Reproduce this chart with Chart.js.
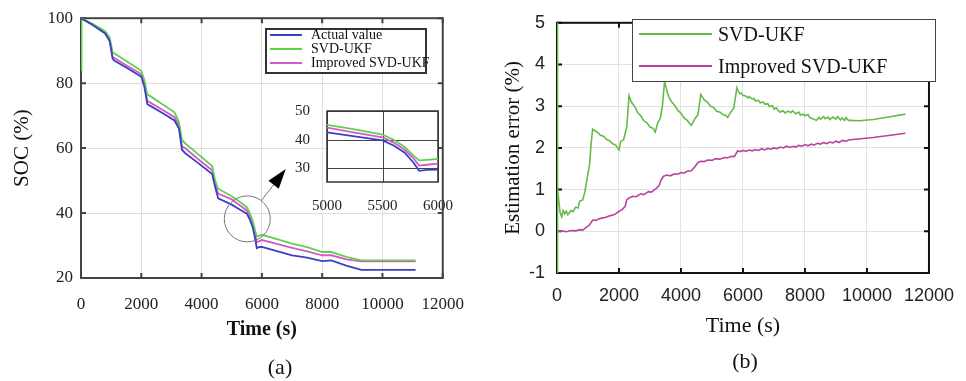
<!DOCTYPE html>
<html>
<head>
<meta charset="utf-8">
<script src="https://cdn.jsdelivr.net/npm/chart.js@4.4.0/dist/chart.umd.min.js"></script>
<style>
  body { margin: 0; background: #fff; }
  #wrap { position: relative; width: 966px; height: 381px; overflow: hidden; }
  canvas { position: absolute; }
  #socChart { left: 0; top: 0; }
  #zoomChart { left: 280px; top: 93px; }
  #errChart { left: 480px; top: 0; }
  .legend { position: absolute; background: #fff; font-family: "Liberation Serif", serif; color: #111; box-sizing: border-box; }
  .legend-item { display: flex; align-items: center; white-space: nowrap; position: relative; top: -2px; }
  .legend-line { flex: none; }
  #legendA { left: 265px; top: 28px; width: 162px; height: 46px; border: 2px solid #333; font-size: 14px; }
  #legendA .legend-item { height: 14px; }
  #legendA .legend-line { width: 32px; height: 2px; margin: 0 9px 0 3px; }
  #legendB { left: 632px; top: 19px; width: 304px; height: 63px; border: 1px solid #444; font-size: 20px; }
  #legendB .legend-item { height: 32px; }
  #legendB .legend-line { width: 73px; height: 2px; margin: 0 6px 0 6px; }
  .cap { position: absolute; font-family: "Liberation Serif", serif; font-size: 22px; color: #111; transform: translate(-50%, -50%); }
</style>
</head>
<body>
<div id="wrap">
  <canvas id="socChart" width="480" height="381"></canvas>
  <canvas id="zoomChart" width="180" height="117"></canvas>
  <canvas id="errChart" width="486" height="381"></canvas>
  <div class="legend" id="legendA"></div>
  <div class="legend" id="legendB"></div>
  <div class="cap" style="left:280px; top:367px;">(a)</div>
  <div class="cap" style="left:745px; top:361px;">(b)</div>
</div>
<script>
// (a) SOC curves
const socTime = [0, 20, 400, 800, 950, 1050, 1100, 1500, 2000, 2100, 2200, 2300, 2700, 3100, 3250, 3350, 3450, 3900, 4350, 4450, 4550, 5000, 5250, 5500, 5600, 5700, 5780, 5830, 5900, 6000, 6500, 7000, 7500, 8000, 8300, 8800, 9300, 11100];
const socActual = [100, 99.9, 97.8, 95.3, 93, 87.5, 87, 84.8, 82, 79, 73.5, 73, 70.8, 68.5, 66, 59.5, 58.5, 55.3, 52, 48, 44.5, 42.6, 41.2, 39.8, 38, 35.5, 32, 29.2, 29.5, 29.6, 28.3, 27, 26.3, 25.2, 25.4, 23.8, 22.5, 22.5];
const socSvd = [84, 100, 98.2, 96, 94, 89.5, 89.2, 86.8, 83.8, 81, 76.5, 76, 73.5, 71, 68, 62.5, 61.5, 58, 54.5, 50, 47.5, 45.2, 43.6, 41.8, 40, 37.5, 34.5, 32.8, 33, 33.3, 32, 30.6, 29.5, 28, 28, 26.5, 25.4, 25.4];
const socImproved = [100, 99.9, 97.9, 95.5, 93.3, 88, 87.8, 85.5, 82.8, 80, 74.5, 74, 71.8, 69.5, 67, 60.5, 60, 56.5, 53.2, 49, 46, 44.2, 42.5, 40.8, 39, 36.5, 33.5, 31, 31.3, 31.7, 30.5, 29.3, 28.2, 27, 27, 25.7, 25.1, 25.1];
const socNames = ['Actual value', 'SVD-UKF', 'Improved SVD-UKF'];
const socColors = ['#3b3fc4', '#5fd04f', '#d55ac8'];
const socXTicks = [0, 2000, 4000, 6000, 8000, 10000, 12000];
const socYTicks = [20, 40, 60, 80, 100];
const zoomXTicks = [5000, 5500, 6000];
const zoomYTicks = [30, 40, 50];

// (b) estimation error
const errTimeSvd = [0, 8, 25, 100, 150, 200, 250, 300, 350, 450, 520, 600, 680, 730, 830, 900, 980, 1050, 1100, 1150, 1250, 1330, 1400, 1500, 1600, 1700, 1800, 1900, 1950, 2005, 2050, 2150, 2250, 2324, 2400, 2500, 2600, 2700, 2800, 2900, 3000, 3100, 3172, 3250, 3330, 3400, 3470, 3550, 3620, 3700, 3800, 3900, 4000, 4100, 4200, 4330, 4450, 4550, 4637, 4750, 4850, 4950, 5050, 5150, 5250, 5350, 5450, 5507, 5600, 5700, 5804, 5850, 5900, 5950, 6000, 6100, 6150, 6200, 6300, 6350, 6400, 6500, 6560, 6650, 6700, 6800, 6850, 6950, 7000, 7070, 7150, 7200, 7300, 7350, 7450, 7550, 7600, 7700, 7800, 7850, 7950, 8000, 8100, 8150, 8250, 8370, 8450, 8500, 8600, 8650, 8750, 8800, 8900, 9000, 9050, 9150, 9200, 9280, 9330, 9400, 9450, 9750, 10200, 10700, 11240];
const errSvd = [-1, 5.3, 1.0, 0.45, 0.35, 0.5, 0.42, 0.48, 0.40, 0.5, 0.47, 0.58, 0.56, 0.72, 0.75, 0.95, 1.3, 1.6, 2.1, 2.45, 2.4, 2.36, 2.3, 2.28, 2.2, 2.17, 2.1, 2.06, 2.0, 1.95, 2.15, 2.2, 2.5, 3.25, 3.1, 3.0, 2.85, 2.77, 2.65, 2.6, 2.5, 2.47, 2.38, 2.6, 2.7, 3.0, 3.6, 3.35, 3.2, 3.1, 3.02, 2.9, 2.83, 2.72, 2.66, 2.54, 2.7, 2.8, 3.28, 3.15, 3.1, 3.0, 2.97, 2.88, 2.86, 2.8, 2.78, 2.73, 2.85, 2.95, 3.44, 3.35, 3.30, 3.31, 3.26, 3.24, 3.20, 3.23, 3.17, 3.19, 3.13, 3.14, 3.08, 3.10, 3.05, 3.06, 2.99, 3.01, 2.93, 2.96, 2.88, 2.86, 2.89, 2.84, 2.88, 2.85, 2.89, 2.82, 2.86, 2.79, 2.81, 2.77, 2.80, 2.73, 2.70, 2.66, 2.73, 2.69, 2.75, 2.70, 2.74, 2.68, 2.74, 2.69, 2.75, 2.67, 2.72, 2.66, 2.73, 2.66, 2.66, 2.65, 2.68, 2.74, 2.81];
const errTimeImp = [0, 150, 300, 450, 600, 750, 830, 950, 1050, 1150, 1250, 1400, 1550, 1700, 1850, 2005, 2100, 2200, 2250, 2324, 2450, 2550, 2700, 2800, 2950, 3050, 3200, 3300, 3350, 3438, 3550, 3650, 3800, 3900, 4000, 4100, 4200, 4330, 4450, 4550, 4640, 4750, 4850, 5000, 5100, 5250, 5400, 5500, 5620, 5720, 5830, 5900, 6000, 6100, 6200, 6300, 6400, 6500, 6600, 6700, 6800, 6900, 7000, 7100, 7200, 7300, 7400, 7500, 7630, 7700, 7800, 7900, 8000, 8100, 8200, 8300, 8400, 8500, 8600, 8700, 8800, 8900, 9000, 9100, 9200, 9330, 9400, 10200, 11240];
const errImp = [0.0, 0.01, -0.01, 0.02, 0.01, 0.04, 0.03, 0.1, 0.15, 0.27, 0.26, 0.31, 0.33, 0.37, 0.40, 0.48, 0.52, 0.60, 0.75, 0.80, 0.84, 0.83, 0.90, 0.88, 0.95, 0.94, 1.03, 1.10, 1.22, 1.32, 1.35, 1.33, 1.38, 1.37, 1.41, 1.40, 1.44, 1.45, 1.55, 1.65, 1.68, 1.67, 1.71, 1.70, 1.74, 1.73, 1.77, 1.76, 1.80, 1.79, 1.93, 1.91, 1.94, 1.92, 1.95, 1.93, 1.96, 1.94, 1.98, 1.95, 1.99, 1.97, 2.00, 1.98, 2.02, 2.00, 2.04, 2.01, 2.04, 2.02, 2.06, 2.04, 2.08, 2.05, 2.09, 2.07, 2.11, 2.09, 2.13, 2.10, 2.14, 2.12, 2.16, 2.13, 2.18, 2.16, 2.19, 2.25, 2.35];
const errNames = ['SVD-UKF', 'Improved SVD-UKF'];
const errColors = ['#66bb46', '#b8429e'];
const errXTicks = [0, 2000, 4000, 6000, 8000, 10000, 12000];
const errYTicks = [-1, 0, 1, 2, 3, 4, 5];

// zoom circle on (a): centre in data units, radius and arrow tip in px
const circleAt = { t: 5516, soc: 38.2, r: 23 };
const arrowTip = { dx: 38.5, dy: -50 };

const SERIF = '"Liberation Serif", "Times New Roman", serif';
const SANS = '"Liberation Sans", Arial, sans-serif';

const pts = (xs, ys) => xs.map((x, i) => ({ x: x, y: ys[i] }));
const setTicks = arr => s => { s.ticks = arr.map(v => ({ value: v })); };

// box round the plot plus MATLAB style inward ticks, drawn under the lines
const frameBox = {
  id: 'frameBox',
  beforeDatasetsDraw(chart, args, opts) {
    const { ctx, chartArea: a, scales } = chart;
    ctx.save();
    if (opts.fill) {
      ctx.fillStyle = opts.fill;
      ctx.fillRect(a.left, a.top, a.right - a.left, a.bottom - a.top);
      // redraw the inset grid over the white fill
      ctx.strokeStyle = opts.gridColor;
      ctx.lineWidth = 1;
      ctx.beginPath();
      scales.x.ticks.forEach(t => { const p = Math.round(scales.x.getPixelForValue(t.value)) + 0.5; ctx.moveTo(p, a.top); ctx.lineTo(p, a.bottom); });
      scales.y.ticks.forEach(t => { const p = Math.round(scales.y.getPixelForValue(t.value)) + 0.5; ctx.moveTo(a.left, p); ctx.lineTo(a.right, p); });
      ctx.stroke();
    }
    ctx.strokeStyle = opts.color;
    ctx.lineWidth = opts.width;
    ctx.strokeRect(a.left, a.top, a.right - a.left, a.bottom - a.top);
    const len = opts.tick || 0;
    if (len) {
      ctx.beginPath();
      scales.x.ticks.forEach(t => {
        const p = scales.x.getPixelForValue(t.value);
        ctx.moveTo(p, a.bottom); ctx.lineTo(p, a.bottom - len);
        ctx.moveTo(p, a.top); ctx.lineTo(p, a.top + len);
      });
      scales.y.ticks.forEach(t => {
        const p = scales.y.getPixelForValue(t.value);
        ctx.moveTo(a.left, p); ctx.lineTo(a.left + len, p);
        ctx.moveTo(a.right, p); ctx.lineTo(a.right - len, p);
      });
      ctx.stroke();
    }
    ctx.restore();
  }
};

const zoomMark = {
  id: 'zoomMark',
  afterDraw(chart) {
    const { ctx, scales } = chart;
    const cx = scales.x.getPixelForValue(circleAt.t);
    const cy = scales.y.getPixelForValue(circleAt.soc);
    const len = Math.hypot(arrowTip.dx, arrowTip.dy);
    const ux = arrowTip.dx / len, uy = arrowTip.dy / len;
    const tx = cx + arrowTip.dx, ty = cy + arrowTip.dy;
    const hl = 20, hw = 6.5;
    ctx.save();
    ctx.strokeStyle = '#777';
    ctx.lineWidth = 1;
    ctx.beginPath();
    ctx.arc(cx, cy, circleAt.r, 0, Math.PI * 2);
    ctx.stroke();
    ctx.beginPath();
    ctx.moveTo(cx + ux * circleAt.r, cy + uy * circleAt.r);
    ctx.lineTo(tx - ux * hl, ty - uy * hl);
    ctx.stroke();
    ctx.fillStyle = '#000';
    ctx.beginPath();
    ctx.moveTo(tx, ty);
    ctx.lineTo(tx - ux * hl - uy * hw, ty - uy * hl + ux * hw);
    ctx.lineTo(tx - ux * hl + uy * hw, ty - uy * hl - ux * hw);
    ctx.closePath();
    ctx.fill();
    ctx.restore();
  }
};

const socSets = () => [socActual, socSvd, socImproved].map((ys, i) => ({
  label: socNames[i],
  data: pts(socTime, ys),
  borderColor: socColors[i],
  borderWidth: 1.8,
  pointRadius: 0
}));

// (a) main chart
new Chart(document.getElementById('socChart'), {
  type: 'line',
  data: { datasets: socSets() },
  options: {
    responsive: false,
    animation: false,
    layout: { padding: { left: 0, right: 25, top: 14, bottom: 36 } },
    scales: {
      x: {
        type: 'linear', min: 0, max: 12000,
        afterBuildTicks: setTicks(socXTicks),
        afterFit: s => { s.height = 67; },
        ticks: { font: { family: SERIF, size: 17 }, color: '#222', padding: 16, maxRotation: 0, autoSkip: false, callback: v => String(v) },
        grid: { color: '#dedede', drawTicks: false },
        border: { display: false },
        title: { display: true, text: 'Time (s)', color: '#111', font: { family: SERIF, size: 20, weight: 'bold' }, padding: { top: 0, bottom: 3 } }
      },
      y: {
        min: 20, max: 100,
        afterBuildTicks: setTicks(socYTicks),
        afterFit: s => { s.width = 81; },
        ticks: { font: { family: SERIF, size: 17 }, color: '#222', padding: 8, callback: v => String(v) },
        grid: { color: '#dedede', drawTicks: false },
        border: { display: false },
        title: { display: true, text: 'SOC (%)', color: '#111', font: { family: SERIF, size: 21 }, padding: { top: 10, bottom: 0 } }
      }
    },
    plugins: {
      legend: { display: false },
      tooltip: { enabled: false },
      frameBox: { color: '#444', width: 2, tick: 5 }
    }
  },
  plugins: [frameBox, zoomMark]
});

// (a) inset
new Chart(document.getElementById('zoomChart'), {
  type: 'line',
  data: { datasets: socSets() },
  options: {
    responsive: false,
    animation: false,
    layout: { padding: { left: 0, right: 22, top: 10, bottom: 0 } },
    scales: {
      x: {
        type: 'linear', min: 5000, max: 6000,
        afterBuildTicks: setTicks(zoomXTicks),
        afterFit: s => { s.height = 28; },
        ticks: { font: { family: SERIF, size: 15 }, color: '#222', padding: 7, maxRotation: 0, autoSkip: false, callback: v => String(v) },
        grid: { display: false },
        border: { display: false }
      },
      y: {
        min: 25.3, max: 50,
        afterBuildTicks: setTicks(zoomYTicks),
        afterFit: s => { s.width = 47; },
        ticks: { font: { family: SERIF, size: 15 }, color: '#222', padding: 9, callback: v => String(v) },
        grid: { display: false },
        border: { display: false }
      }
    },
    plugins: {
      legend: { display: false },
      tooltip: { enabled: false },
      frameBox: { color: '#333', width: 1.5, tick: 0, fill: '#fff', gridColor: '#444' }
    }
  },
  plugins: [frameBox]
});

// (b) estimation error
new Chart(document.getElementById('errChart'), {
  type: 'line',
  data: {
    datasets: [pts(errTimeSvd, errSvd), pts(errTimeImp, errImp)].map((d, i) => ({
      label: errNames[i],
      data: d,
      borderColor: errColors[i],
      borderWidth: 1.6,
      pointRadius: 0
    }))
  },
  options: {
    responsive: false,
    animation: false,
    layout: { padding: { left: 0, right: 32, top: 19, bottom: 38 } },
    scales: {
      x: {
        type: 'linear', min: 0, max: 12000,
        afterBuildTicks: setTicks(errXTicks),
        afterFit: s => { s.height = 70; },
        ticks: { font: { family: SANS, size: 18 }, color: '#222', padding: 12, maxRotation: 0, autoSkip: false, callback: v => String(v) },
        grid: { color: '#e2e2e2', drawTicks: false },
        border: { display: false },
        title: { display: true, text: 'Time (s)', color: '#111', font: { family: SERIF, size: 22 }, padding: { top: 0, bottom: 4 } }
      },
      y: {
        min: -1, max: 5,
        afterBuildTicks: setTicks(errYTicks),
        afterFit: s => { s.width = 77; },
        ticks: { font: { family: SANS, size: 18 }, color: '#222', padding: 12, callback: v => String(v) },
        grid: { color: '#e2e2e2', drawTicks: false },
        border: { display: false },
        title: { display: true, text: 'Estimation error (%)', color: '#111', font: { family: SERIF, size: 21 }, padding: { top: 21, bottom: 0 } }
      }
    },
    plugins: {
      legend: { display: false },
      tooltip: { enabled: false },
      frameBox: { color: '#111', width: 2, tick: 5 }
    }
  },
  plugins: [frameBox]
});

// legends
const buildLegend = (el, names, colors) => {
  el.innerHTML = names.map((n, i) => `
    <div class="legend-item"><div class="legend-line" style="background:${colors[i]}"></div>${n}</div>
  `).join('');
};
buildLegend(document.getElementById('legendA'), socNames, socColors);
buildLegend(document.getElementById('legendB'), errNames, errColors);
</script>
</body>
</html>
